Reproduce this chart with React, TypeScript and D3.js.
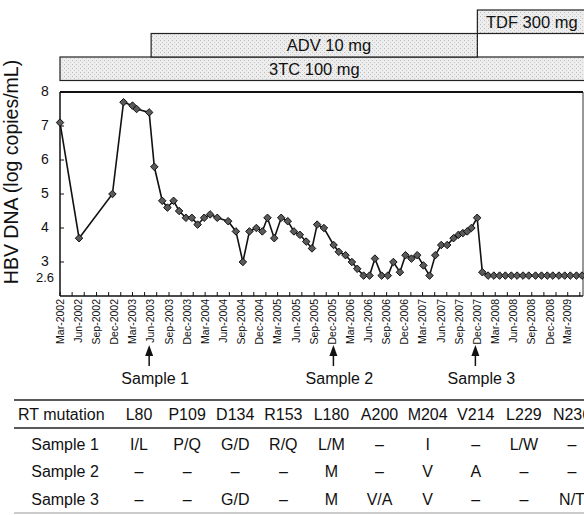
import React from "react";
import * as d3 from "d3";

// HBV DNA measurements (log copies/mL)
const sampleDates = [
  "2002-03-01", "2002-06-05", "2002-11-20", "2003-01-15", "2003-03-01", "2003-03-22",
  "2003-05-24", "2003-06-19", "2003-07-29", "2003-08-24", "2003-09-24", "2003-10-22",
  "2003-11-25", "2003-12-25", "2004-01-23", "2004-02-25", "2004-03-26", "2004-05-01",
  "2004-06-25", "2004-08-03", "2004-09-07", "2004-10-10", "2004-11-14", "2004-12-14",
  "2005-01-09", "2005-02-12", "2005-03-19", "2005-04-21", "2005-05-22", "2005-06-21",
  "2005-07-23", "2005-08-21", "2005-09-16", "2005-10-20", "2005-12-08", "2006-01-03",
  "2006-02-06", "2006-03-10", "2006-04-06", "2006-05-08", "2006-06-07", "2006-07-04",
  "2006-08-07", "2006-09-07", "2006-10-05", "2006-11-07", "2006-12-05", "2007-01-04",
  "2007-02-02", "2007-03-05", "2007-04-05", "2007-05-04", "2007-06-03", "2007-07-03",
  "2007-08-04", "2007-08-29", "2007-09-20", "2007-10-12", "2007-11-02", "2007-12-01",
  "2007-12-27", "2008-01-25", "2008-02-23", "2008-03-23", "2008-04-21", "2008-05-21",
  "2008-06-19", "2008-07-19", "2008-08-17", "2008-09-20", "2008-10-20", "2008-11-18",
  "2008-12-16", "2009-01-16", "2009-02-14", "2009-03-14", "2009-04-14", "2009-05-12",
];
const hbvDna = [
  7.1, 3.7, 5.0, 7.7, 7.6, 7.5,
  7.4, 5.8, 4.8, 4.6, 4.8, 4.5,
  4.3, 4.3, 4.1, 4.3, 4.4, 4.3,
  4.2, 3.9, 3.0, 3.9, 4.0, 3.9,
  4.3, 3.7, 4.3, 4.2, 3.9, 3.8,
  3.6, 3.4, 4.1, 4.0, 3.5, 3.3,
  3.2, 3.0, 2.8, 2.6, 2.6, 3.1,
  2.6, 2.6, 3.0, 2.7, 3.2, 3.1,
  3.2, 2.9, 2.6, 3.2, 3.5, 3.5,
  3.7, 3.8, 3.85, 3.9, 4.0, 4.3,
  2.7, 2.6, 2.6, 2.6, 2.6, 2.6,
  2.6, 2.6, 2.6, 2.6, 2.6, 2.6,
  2.6, 2.6, 2.6, 2.6, 2.6, 2.6,
];

const quarterLabels = [
  "Mar-2002", "Jun-2002", "Sep-2002", "Dec-2002", "Mar-2003", "Jun-2003", "Sep-2003",
  "Dec-2003", "Mar-2004", "Jun-2004", "Sep-2004", "Dec-2004", "Mar-2005", "Jun-2005",
  "Sep-2005", "Dec-2005", "Mar-2006", "Jun-2006", "Sep-2006", "Dec-2006", "Mar-2007",
  "Jun-2007", "Sep-2007", "Dec-2007", "Mar-2008", "Jun-2008", "Sep-2008", "Dec-2008",
  "Mar-2009",
];
const yTicks = [2.6, 3, 4, 5, 6, 7, 8];

// treatment bars (null end = still running past the frame)
const drugNames = ["3TC 100 mg", "ADV 10 mg", "TDF 300 mg"];
const drugStarts = ["2002-03-01", "2003-06-03", "2007-12-02"];
const drugEnds = [null, "2007-12-02", null];
const drugLabelAt = ["2005-09-02", "2005-11-15", "2008-09-01"];

const sampleNames = ["Sample 1", "Sample 2", "Sample 3"];
const sampleAt = ["2003-05-24", "2005-12-07", "2007-11-22"];

// mutation table
const rtPositions = ["L80", "P109", "D134", "R153", "L180", "A200", "M204", "V214", "L229", "N236"];
const sample1Mut = ["I/L", "P/Q", "G/D", "R/Q", "L/M", "–", "I", "–", "L/W", "–"];
const sample2Mut = ["–", "–", "–", "–", "M", "–", "V", "A", "–", "–"];
const sample3Mut = ["–", "–", "G/D", "–", "M", "V/A", "V", "–", "–", "N/T"];

const W = 584;
const H = 515;
const FONT = "'Liberation Sans', Arial, Helvetica, sans-serif";

export default function App() {
  const parse = d3.timeParse("%Y-%m-%d");
  const parseQ = d3.timeParse("%b-%Y");

  const left = 60;
  const right = 583;
  const top = 92;
  const bottom = 296;

  const x = d3
    .scaleTime()
    .domain([parse("2002-03-01")!, parse("2009-05-17")!])
    .range([left, right]);
  const y = d3.scaleLinear().domain([2, 8]).range([bottom, top]);

  const points = sampleDates.map((d, i) => ({ date: parse(d)!, value: hbvDna[i] }));

  const line = d3
    .line<{ date: Date; value: number }>()
    .x((d) => x(d.date))
    .y((d) => y(d.value));

  const diamond = d3.symbol().type(d3.symbolDiamond2).size(36)();

  const minorTicks = d3.timeMonth
    .every(2)!
    .range(parse("2002-03-01")!, parse("2009-05-17")!);

  // drug boxes
  const boxH = 23.5;
  const boxBottom = 80.5;

  // table
  const col = d3.scalePoint<string>().domain(rtPositions).range([139, 572]);
  const rows = [sample1Mut, sample2Mut, sample3Mut];
  const rowY = d3.scalePoint<number>().domain([0, 1, 2]).range([449.5, 504.5]);

  return (
    <svg
      width={W}
      height={H}
      style={{ position: "absolute", left: 0, top: 0, background: "#fff" }}
      fontFamily={FONT}
    >
      <defs>
        <pattern id="stipple" width="4" height="4" patternUnits="userSpaceOnUse">
          <rect width="4" height="4" fill="#ededed" />
          <rect x="0" y="0" width="1" height="1" fill="#bdbdbd" />
          <rect x="2" y="2" width="1" height="1" fill="#cccccc" />
        </pattern>
      </defs>

      {/* treatment bars */}
      {drugNames.map((name, i) => {
        const x0 = x(parse(drugStarts[i])!);
        const x1 = drugEnds[i] ? x(parse(drugEnds[i]!)!) : W + 10;
        const y1 = boxBottom - boxH * i;
        return (
          <g key={name}>
            <rect
              x={x0}
              y={y1 - boxH}
              width={x1 - x0}
              height={boxH}
              fill="url(#stipple)"
              stroke="#222"
              strokeWidth={1.2}
            />
            <text
              x={x(parse(drugLabelAt[i])!)}
              y={y1 - boxH / 2}
              dy="0.36em"
              textAnchor="middle"
              fontSize={16.5}
              fill="#111"
            >
              {name}
            </text>
          </g>
        );
      })}

      {/* frame */}
      <line x1={left} x2={right} y1={top} y2={top} stroke="#111" strokeWidth={2} />
      <line x1={left} x2={left} y1={top} y2={bottom} stroke="#111" strokeWidth={1.5} />
      <line x1={left} x2={right} y1={bottom} y2={bottom} stroke="#111" strokeWidth={1.5} />
      <line x1={right} x2={right} y1={top} y2={bottom} stroke="#333" strokeWidth={1} />

      {/* y axis */}
      {yTicks.map((t) => (
        <g key={t}>
          {Number.isInteger(t) && (
            <line x1={left} x2={left + 4} y1={y(t)} y2={y(t)} stroke="#111" strokeWidth={1} />
          )}
          <text
            x={45}
            y={y(t)}
            dy={t === 2.6 ? "0.5em" : "0.3em"}
            textAnchor="middle"
            fontSize={t === 2.6 ? 13 : 14}
            fill="#111"
          >
            {t}
          </text>
        </g>
      ))}
      <text
        transform={`translate(18,172) rotate(-90)`}
        textAnchor="middle"
        fontSize={19.5}
        fill="#111"
      >
        HBV DNA (log copies/mL)
      </text>

      {/* x axis */}
      {minorTicks.map((d, i) => (
        <line
          key={i}
          x1={x(d)}
          x2={x(d)}
          y1={bottom}
          y2={bottom - 4}
          stroke="#111"
          strokeWidth={1}
        />
      ))}
      {quarterLabels.map((lab) => (
        <text
          key={lab}
          transform={`translate(${x(parseQ(lab)!)},${bottom + 3}) rotate(-90)`}
          dy="0.35em"
          textAnchor="end"
          fontSize={10.5}
          fill="#111"
        >
          {lab}
        </text>
      ))}

      {/* series */}
      <path d={line(points) || ""} fill="none" stroke="#111" strokeWidth={1.6} />
      {points.map((p, i) => (
        <path
          key={i}
          d={diamond || ""}
          transform={`translate(${x(p.date)},${y(p.value)})`}
          fill="#5a5a5a"
          stroke="#111"
          strokeWidth={1}
        />
      ))}

      {/* sample arrows */}
      {sampleNames.map((name, i) => {
        const sx = x(parse(sampleAt[i])!);
        return (
          <g key={name}>
            <line x1={sx} x2={sx} y1={366} y2={352} stroke="#111" strokeWidth={1.5} />
            <path d={`M${sx},345 L${sx - 4},356 L${sx + 4},356 Z`} fill="#111" />
            <text x={sx + 6} y={384} textAnchor="middle" fontSize={16} fill="#111">
              {name}
            </text>
          </g>
        );
      })}

      {/* mutation table */}
      <line x1={14} x2={W} y1={400} y2={400} stroke="#222" strokeWidth={1.6} />
      <line x1={14} x2={W} y1={428} y2={428} stroke="#222" strokeWidth={1.6} />
      <line x1={14} x2={W} y1={513} y2={513} stroke="#999" strokeWidth={1.2} />
      <text x={18} y={419.5} fontSize={16} fill="#111">
        RT mutation
      </text>
      {rtPositions.map((p) => (
        <text key={p} x={col(p)} y={419.5} textAnchor="middle" fontSize={16} fill="#111">
          {p}
        </text>
      ))}
      {rows.map((r, ri) => (
        <g key={ri}>
          <text x={65} y={rowY(ri)} textAnchor="middle" fontSize={16} fill="#111">
            {sampleNames[ri]}
          </text>
          {r.map((m, ci) => (
            <text
              key={ci}
              x={col(rtPositions[ci])}
              y={rowY(ri)}
              textAnchor="middle"
              fontSize={16}
              fill="#111"
            >
              {m}
            </text>
          ))}
        </g>
      ))}
    </svg>
  );
}
